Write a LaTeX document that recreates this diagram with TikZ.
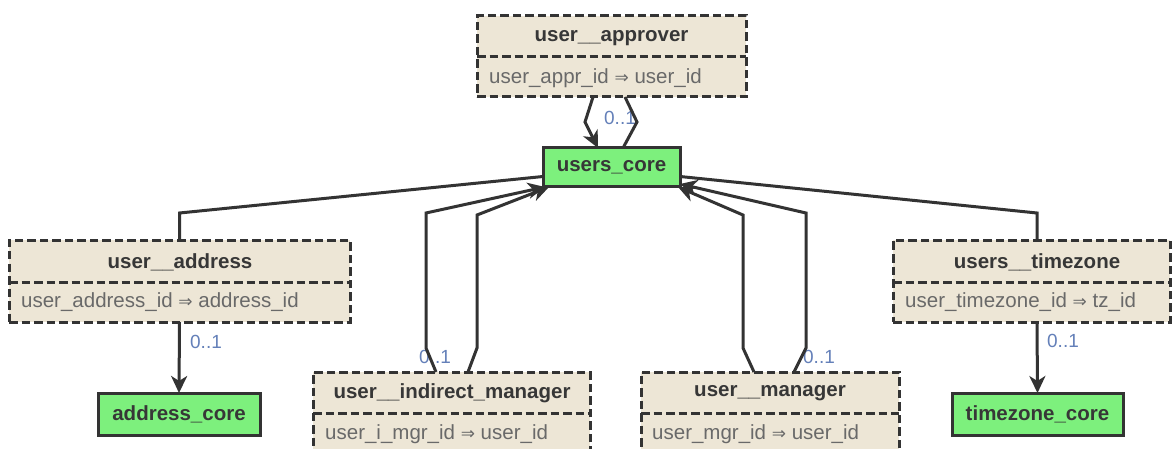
\documentclass[tikz,border=0pt]{standalone}
\usepackage{fontspec}
\setmainfont{Liberation Sans}
\newfontfamily\symfont{DejaVu Sans}
\usetikzlibrary{arrows.meta}
\definecolor{beige}{RGB}{237,230,214}
\definecolor{linec}{RGB}{51,51,51}
\definecolor{greenf}{RGB}{125,240,125}
\definecolor{titlec}{RGB}{55,55,55}
\definecolor{attrc}{RGB}{105,105,105}
\definecolor{lblc}{RGB}{100,128,185}
\newcommand{\impl}{{\symfont\fontsize{17}{17}\selectfont ⇒}}
\tikzset{
  tbl/.style={draw=linec, fill=beige, line width=3pt, dash pattern=on 8.5pt off 4pt, inner sep=0pt, outer sep=0pt},
  divline/.style={draw=linec, line width=3pt, dash pattern=on 8.5pt off 4pt},
  corebox/.style={draw=linec, fill=greenf, line width=3pt, inner sep=0pt, outer sep=0pt, text=titlec, font=\bfseries\fontsize{20.5}{20.5}\selectfont},
  ttl/.style={text=titlec, font=\bfseries\fontsize{20.5}{20.5}\selectfont, inner sep=0pt},
  attr/.style={text=attrc, font=\fontsize{20.5}{20.5}\selectfont, inner sep=0pt, anchor=west},
  lbl/.style={text=lblc, font=\fontsize{19}{19}\selectfont, inner sep=0pt},
  edge/.style={draw=linec, line width=3pt},
  arr/.style={edge, -{Stealth[length=17pt,width=16pt,inset=5pt]}}
}
\begin{document}
\begin{tikzpicture}[x=1pt,y=-1pt]
\useasboundingbox (0,0) rectangle (1172,449);
\clip (0,0) rectangle (1172,449);
\fill[white] (0,0) rectangle (1172,449);

% tables
\node[tbl, minimum width=269pt, minimum height=81pt] (approver) at (611.5,56.5) {};
\draw[divline] (477,57) -- (746,57);
\node[ttl] (approverT) at (611.5,38) {user\_\_approver};
\node[attr] (approverA) at (489,78) {user\_appr\_id \impl{} user\_id};

\node[tbl, minimum width=341pt, minimum height=82pt] (address) at (179.5,281) {};
\draw[divline] (9,282) -- (350,282);
\node[ttl] (addressT) at (180,262) {user\_\_address};
\node[attr] (addressA) at (21,302) {user\_address\_id \impl{} address\_id};

\node[tbl, minimum width=277pt, minimum height=82pt] (timezone) at (1031.5,281) {};
\draw[divline] (893,282) -- (1170,282);
\node[ttl] (timezoneT) at (1037,262) {users\_\_timezone};
\node[attr] (timezoneA) at (905,302) {user\_timezone\_id \impl{} tz\_id};

\node[tbl, minimum width=277pt, minimum height=118pt] (indirect) at (451.5,431) {};
\draw[divline] (313,413) -- (590,413);
\node[ttl] (indirectT) at (452,393) {user\_\_indirect\_manager};
\node[attr] (indirectA) at (325,434) {user\_i\_mgr\_id \impl{} user\_id};

\node[tbl, minimum width=258pt, minimum height=118pt] (manager) at (770,431) {};
\draw[divline] (641,413) -- (899,413);
\node[ttl] (managerT) at (770,393) {user\_\_manager};
\node[attr] (managerA) at (652,434) {user\_mgr\_id \impl{} user\_id};

% core boxes
\node[corebox, minimum width=137pt, minimum height=39pt] (core) at (611.5,167.5) {users\_core};
\node[corebox, minimum width=162pt, minimum height=42pt] (addrcore) at (179,414) {address\_core};
\node[corebox, minimum width=171pt, minimum height=42pt] (tzcore) at (1037.5,414) {timezone\_core};

% labels
\node[lbl] (l1) at (620,118) {0..1};
\node[lbl] (l2) at (206,342) {0..1};
\node[lbl] (l3) at (1063,341) {0..1};
\node[lbl] (l4) at (435,357) {0..1};
\node[lbl] (l5) at (819,357) {0..1};

% edges
\draw[arr] ([xshift=-18.5pt]approver.south) -- (585,122) -- ([xshift=-13.5pt]core.north);
\draw[edge] ([xshift=13.5pt]approver.south) -- (637,122) -- ([xshift=11.5pt]core.north);

\draw[edge] (address.north) -- (179.5,213) -- ([yshift=-9pt]core.west);
\draw[arr] (address.south) -- (addrcore.north);

\draw[edge] ([xshift=5.5pt]timezone.north) -- (1037,213) -- ([yshift=-9pt]core.east);
\draw[arr] ([xshift=5.5pt]timezone.south) -- (tzcore.north);

\draw[arr] ([xshift=-15.5pt]indirect.north) -- (426,348) -- (426,213) -- ([xshift=2pt]core.south west);
\draw[arr] ([xshift=16.5pt]indirect.north) -- (477,348) -- (477,215) -- ([xshift=6pt]core.south west);

\draw[arr] ([xshift=-16pt]manager.north) -- (743,348) -- (743,215) -- ([xshift=-2pt]core.south east);
\draw[arr] ([xshift=24pt]manager.north) -- (806,348) -- (806,213) -- ([yshift=3pt]core.south east);
\end{tikzpicture}
\end{document}
